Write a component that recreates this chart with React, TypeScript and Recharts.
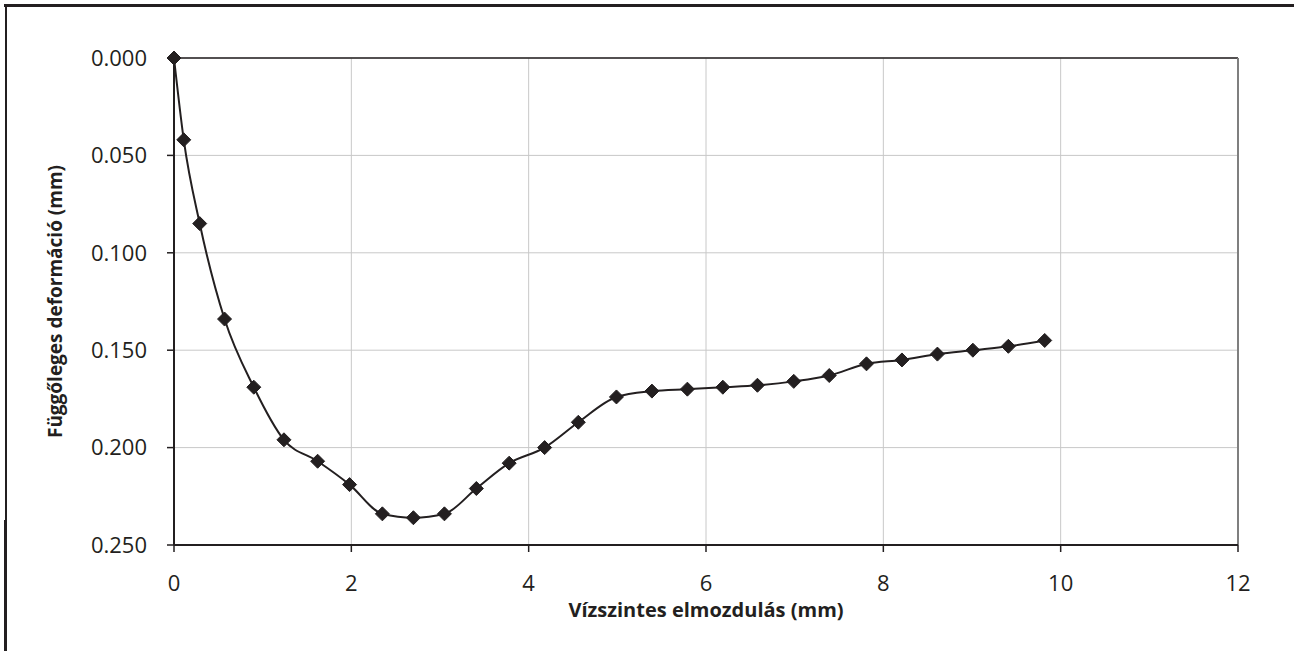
import React from "react";
import {
  ComposedChart,
  Line,
  XAxis,
  YAxis,
  CartesianGrid,
  ReferenceLine,
  Label,
} from "recharts";

const horizontalDisplacement = [
  0, 0.11, 0.29, 0.57, 0.9, 1.24, 1.62, 1.98, 2.35, 2.7, 3.05, 3.41, 3.78, 4.18,
  4.56, 4.99, 5.39, 5.79, 6.19, 6.58, 6.99, 7.39, 7.81, 8.21, 8.61, 9.01, 9.41,
  9.82,
];
const verticalDeformation = [
  0, 0.042, 0.085, 0.134, 0.169, 0.196, 0.207, 0.219, 0.234, 0.236, 0.234,
  0.221, 0.208, 0.2, 0.187, 0.174, 0.171, 0.17, 0.169, 0.168, 0.166, 0.163,
  0.157, 0.155, 0.152, 0.15, 0.148, 0.145,
];
const xTicks = [0, 2, 4, 6, 8, 10, 12];
const yTicks = [0, 0.05, 0.1, 0.15, 0.2, 0.25];
const xAxisTitle = "Vízszintes elmozdulás (mm)";
const yAxisTitle = "Függőleges deformáció (mm)";

const data = horizontalDisplacement.map((x, i) => ({
  x,
  y: verticalDeformation[i],
}));

const INK = "#231f20";
const FONT = "'Open Sans', 'DejaVu Sans', sans-serif";

const Diamond = (props: any) => {
  const { cx, cy } = props;
  if (cx == null || cy == null) return null;
  const r = 7;
  return (
    <polygon
      points={`${cx},${cy - r} ${cx + r},${cy} ${cx},${cy + r} ${cx - r},${cy}`}
      fill={INK}
      stroke={INK}
      strokeWidth={1}
    />
  );
};

const XTitle = (props: any) => {
  const vb = props.viewBox || {};
  const cx = vb.x + vb.width / 2;
  return (
    <text
      x={cx}
      y={vb.y + 72}
      textAnchor="middle"
      fontFamily={FONT}
      fontWeight="bold"
      fontSize={20}
      fill={INK}
    >
      {xAxisTitle}
    </text>
  );
};

const YTitle = (props: any) => {
  const vb = props.viewBox || {};
  const cy = vb.y + vb.height / 2;
  const bx = 62;
  return (
    <text
      x={bx}
      y={cy}
      transform={`rotate(-90, ${bx}, ${cy})`}
      textAnchor="middle"
      fontFamily={FONT}
      fontWeight="bold"
      fontSize={19}
      fill={INK}
    >
      {yAxisTitle}
    </text>
  );
};

export default function App() {
  return (
    <div
      style={{
        position: "absolute",
        left: 0,
        top: 0,
        width: 1294,
        height: 651,
        background: "#fff",
        overflow: "hidden",
      }}
    >
      <div
        style={{
          position: "absolute",
          left: 4,
          top: 4,
          width: 1290,
          height: 3,
          background: INK,
        }}
      />
      <div
        style={{
          position: "absolute",
          left: 5,
          top: 4,
          width: 2,
          height: 516,
          background: INK,
        }}
      />
      <div
        style={{
          position: "absolute",
          left: 4,
          top: 520,
          width: 3,
          height: 131,
          background: INK,
        }}
      />
      <div style={{ position: "absolute", left: 0, top: 0 }}>
        <ComposedChart
          width={1294}
          height={651}
          data={data}
          margin={{ top: 58, right: 56, bottom: 0, left: 0 }}
        >
          <CartesianGrid stroke="#c8c8c8" strokeWidth={1} />
          <XAxis
            type="number"
            dataKey="x"
            domain={[0, 12]}
            ticks={xTicks}
            interval={0}
            height={106}
            tickSize={7}
            tickMargin={23}
            axisLine={{ stroke: INK, strokeWidth: 2 }}
            tickLine={{ stroke: INK, strokeWidth: 1.5 }}
            tick={{ fill: INK, fontSize: 22, fontFamily: FONT }}
          >
            <Label content={<XTitle />} />
          </XAxis>
          <YAxis
            type="number"
            dataKey="y"
            reversed
            domain={[0, 0.25]}
            ticks={yTicks}
            interval={0}
            width={174}
            tickSize={7}
            tickMargin={20}
            tickFormatter={(v: number) => v.toFixed(3)}
            axisLine={{ stroke: INK, strokeWidth: 2 }}
            tickLine={{ stroke: INK, strokeWidth: 1.5 }}
            tick={{ fill: INK, fontSize: 22, fontFamily: FONT }}
          >
            <Label content={<YTitle />} />
          </YAxis>
          <ReferenceLine y={0} stroke={INK} strokeWidth={1.5} />
          <ReferenceLine x={12} stroke="#7f7f7f" strokeWidth={2} />
          <Line
            type="monotone"
            dataKey="y"
            stroke={INK}
            strokeWidth={2}
            dot={<Diamond />}
            activeDot={false}
            isAnimationActive={false}
          />
        </ComposedChart>
      </div>
    </div>
  );
}
